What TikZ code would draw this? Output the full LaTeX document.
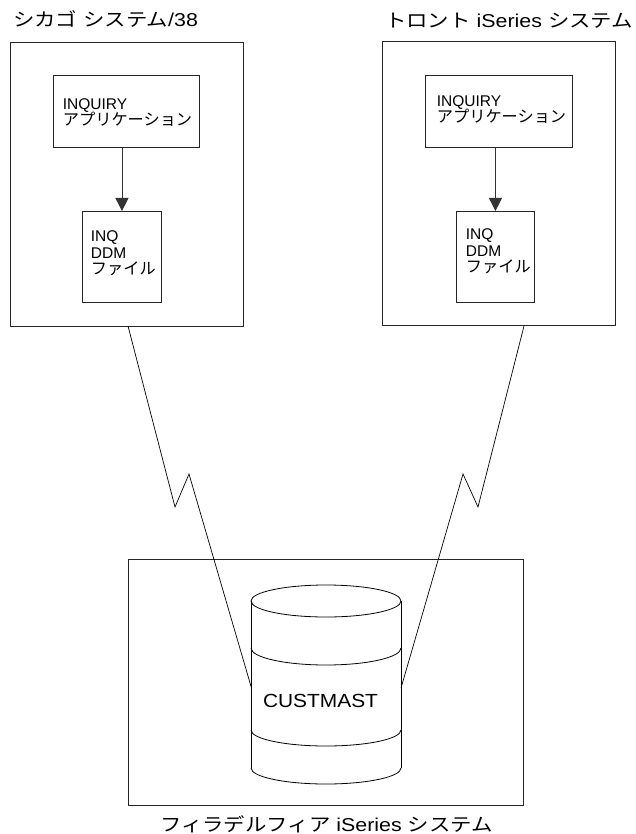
\documentclass[tikz,border=0pt]{standalone}
\usepackage{fontspec}
\setmainfont{Liberation Sans}
\newfontfamily\jp{Noto Sans CJK JP}
\newfontfamily\ttlfont{Liberation Sans}[FakeStretch=1.15]
\newfontfamily\jpttl{Noto Sans CJK JP}[FakeStretch=1.15]
\newfontfamily\dbfont{Liberation Sans}[FakeStretch=1.1]
\usetikzlibrary{arrows.meta}
\tikzset{
  bx/.style={draw=black!85, line width=0.9pt, inner sep=0pt, anchor=north west},
  txt/.style={inner sep=0pt, anchor=base west, font=\fontsize{15.5}{17}\selectfont},
  jtxt/.style={inner sep=0pt, anchor=base west, font=\fontsize{16.2}{17}\selectfont\jp},
  ttl/.style={inner sep=0pt, anchor=base west, font=\fontsize{18.6}{20}\selectfont\ttlfont},
  arr/.style={draw=black!80, line width=0.9pt, -{Triangle[width=13pt,length=13pt]}},
  zig/.style={draw=black, line width=0.7pt, line join=miter},
  cyl/.style={draw=black, line width=0.8pt}
}
\begin{document}
\begin{tikzpicture}[x=1pt,y=-1pt]
\useasboundingbox (0,0) rectangle (635,834);

% Left system
\node[bx, minimum width=233.5pt, minimum height=284pt] (lout) at (9.5,42) {};
\node[bx, minimum width=146pt, minimum height=72pt] (lapp) at (53,75) {};
\node[bx, minimum width=79pt, minimum height=91pt] (lddm) at (82,211) {};
\draw[arr] (lapp.south -| lddm.north) -- (lddm.north);
\node[ttl] (lttl) at (13,27) {{\jpttl シカゴ} {\jpttl システム}/38};
\node[txt] (lt1) at (62.7,110) {INQUIRY};
\node[jtxt] (lt2) at (62.7,126) {アプリケーション};
\node[txt] (lt3) at (90.7,241.5) {INQ};
\node[txt] (lt4) at (90.7,258) {DDM};
\node[jtxt] (lt5) at (90.7,274) {ファイル};

% Right system
\node[bx, minimum width=233pt, minimum height=284pt] (rout) at (382,41) {};
\node[bx, minimum width=147pt, minimum height=72pt] (rapp) at (425,75) {};
\node[bx, minimum width=78pt, minimum height=91pt] (rddm) at (456,211) {};
\draw[arr] (rapp.south -| rddm.north) -- (rddm.north);
\node[ttl] (rttl) at (385,28) {{\jpttl トロント} iSeries {\jpttl システム}};
\node[txt] (rt1) at (436.7,107) {INQUIRY};
\node[jtxt] (rt2) at (436.7,123) {アプリケーション};
\node[txt] (rt3) at (465.7,239) {INQ};
\node[txt] (rt4) at (465.7,256) {DDM};
\node[jtxt] (rt5) at (465.7,272) {ファイル};

% Bottom system
\node[bx, minimum width=395pt, minimum height=246pt] (bout) at (128,559) {};
\node[ttl] (bttl) at (160,831) {{\jpttl フィラデルフィア} iSeries {\jpttl システム}};

% Cylinder
\draw[cyl] (326,601) ellipse [x radius=75pt, y radius=16pt];
\draw[cyl] (251,601) -- (251,768);
\draw[cyl] (401,601) -- (401,768);
\draw[cyl] (251,648) arc[start angle=180, end angle=360, x radius=75pt, y radius=17pt];
\draw[cyl] (251,730) arc[start angle=180, end angle=360, x radius=75pt, y radius=16pt];
\draw[cyl] (251,768) arc[start angle=180, end angle=360, x radius=75pt, y radius=16pt];
\node[inner sep=0pt, anchor=base, font=\fontsize{19}{20}\selectfont\dbfont] (db) at (320.5,707.5) {CUSTMAST};

% Lightning links
\coordinate (ls) at (128,326);
\coordinate (le) at (251.5,688);
\coordinate (rs) at (524,326);
\coordinate (re) at (401,688);
\draw[zig] (ls) -- (175,507) -- (189,474) -- (le);
\draw[zig] (rs) -- (478,507) -- (463,474) -- (re);
\end{tikzpicture}
\end{document}
